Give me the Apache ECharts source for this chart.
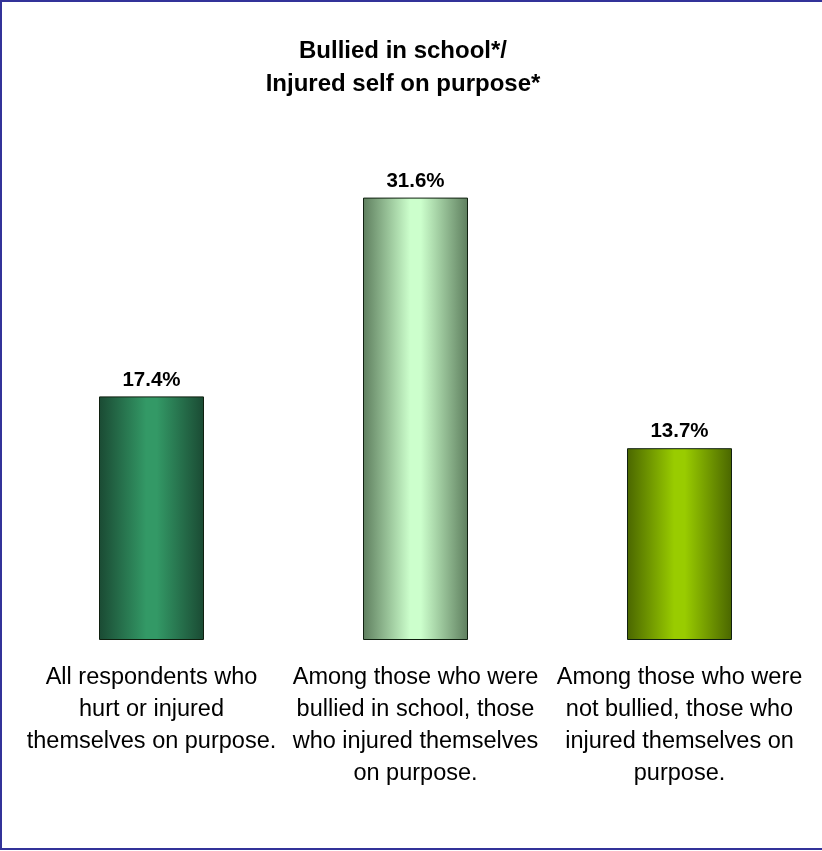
<!DOCTYPE html>
<html><head><meta charset="utf-8">
<script src="https://cdn.jsdelivr.net/npm/echarts@6/dist/echarts.min.js"></script>
<style>html,body{margin:0;padding:0;background:#fff}#c{width:822px;height:851px}</style>
</head><body><div id="c"></div>
<script>
const categories = [
  "All respondents who\nhurt or injured\nthemselves on purpose.",
  "Among those who were\nbullied in school, those\nwho injured themselves\non purpose.",
  "Among those who were\nnot bullied, those who\ninjured themselves on\npurpose."
];
const values = [17.4, 31.6, 13.7];
const edgeColors = ["#1a4a33", "#5e7e5e", "#4a6600"];
const midColors = ["#339966", "#ccffcc", "#99cc00"];

function grad(i){
  return new echarts.graphic.LinearGradient(0,0,1,0,[
    {offset:0,color:edgeColors[i]},
    {offset:0.45,color:midColors[i]},
    {offset:0.55,color:midColors[i]},
    {offset:1,color:edgeColors[i]}
  ]);
}
const FF = 'Liberation Sans, Arial, sans-serif';
const chart = echarts.init(document.getElementById('c'), null, {renderer:'canvas'});
chart.setOption({
  backgroundColor:'#fff',
  animation:false,
  title:{
    text:'Bullied in school*/\nInjured self on purpose*',
    left:398, top:30, textAlign:'center',
    textStyle:{fontFamily:FF, fontSize:24, fontWeight:'bold', color:'#000', lineHeight:33}
  },
  graphic:[{type:'rect', shape:{x:1,y:1,width:830,height:848}, style:{fill:'none', stroke:'#333399', lineWidth:2}, silent:true}],
  grid:{left:19.5, right:10.5, top:150, bottom:211},
  xAxis:{type:'category', data:categories,
    axisLine:{show:false}, axisTick:{show:false},
    axisLabel:{interval:0, margin:22, color:'#000', fontFamily:FF, fontSize:23.5, lineHeight:32, verticalAlign:'top'}},
  yAxis:{type:'value', min:0, max:35, show:false, splitLine:{show:false}},
  series:[{type:'bar', barWidth:105,
    data: values.map((v,i)=>({value:v, itemStyle:{color:grad(i), borderColor:'#102010', borderWidth:1}})),
    label:{show:true, position:'top', distance:6, formatter:p=>p.value.toFixed(1)+'%', color:'#000', fontFamily:FF, fontSize:20.5, fontWeight:'bold'}
  }]
});
</script></body></html>
